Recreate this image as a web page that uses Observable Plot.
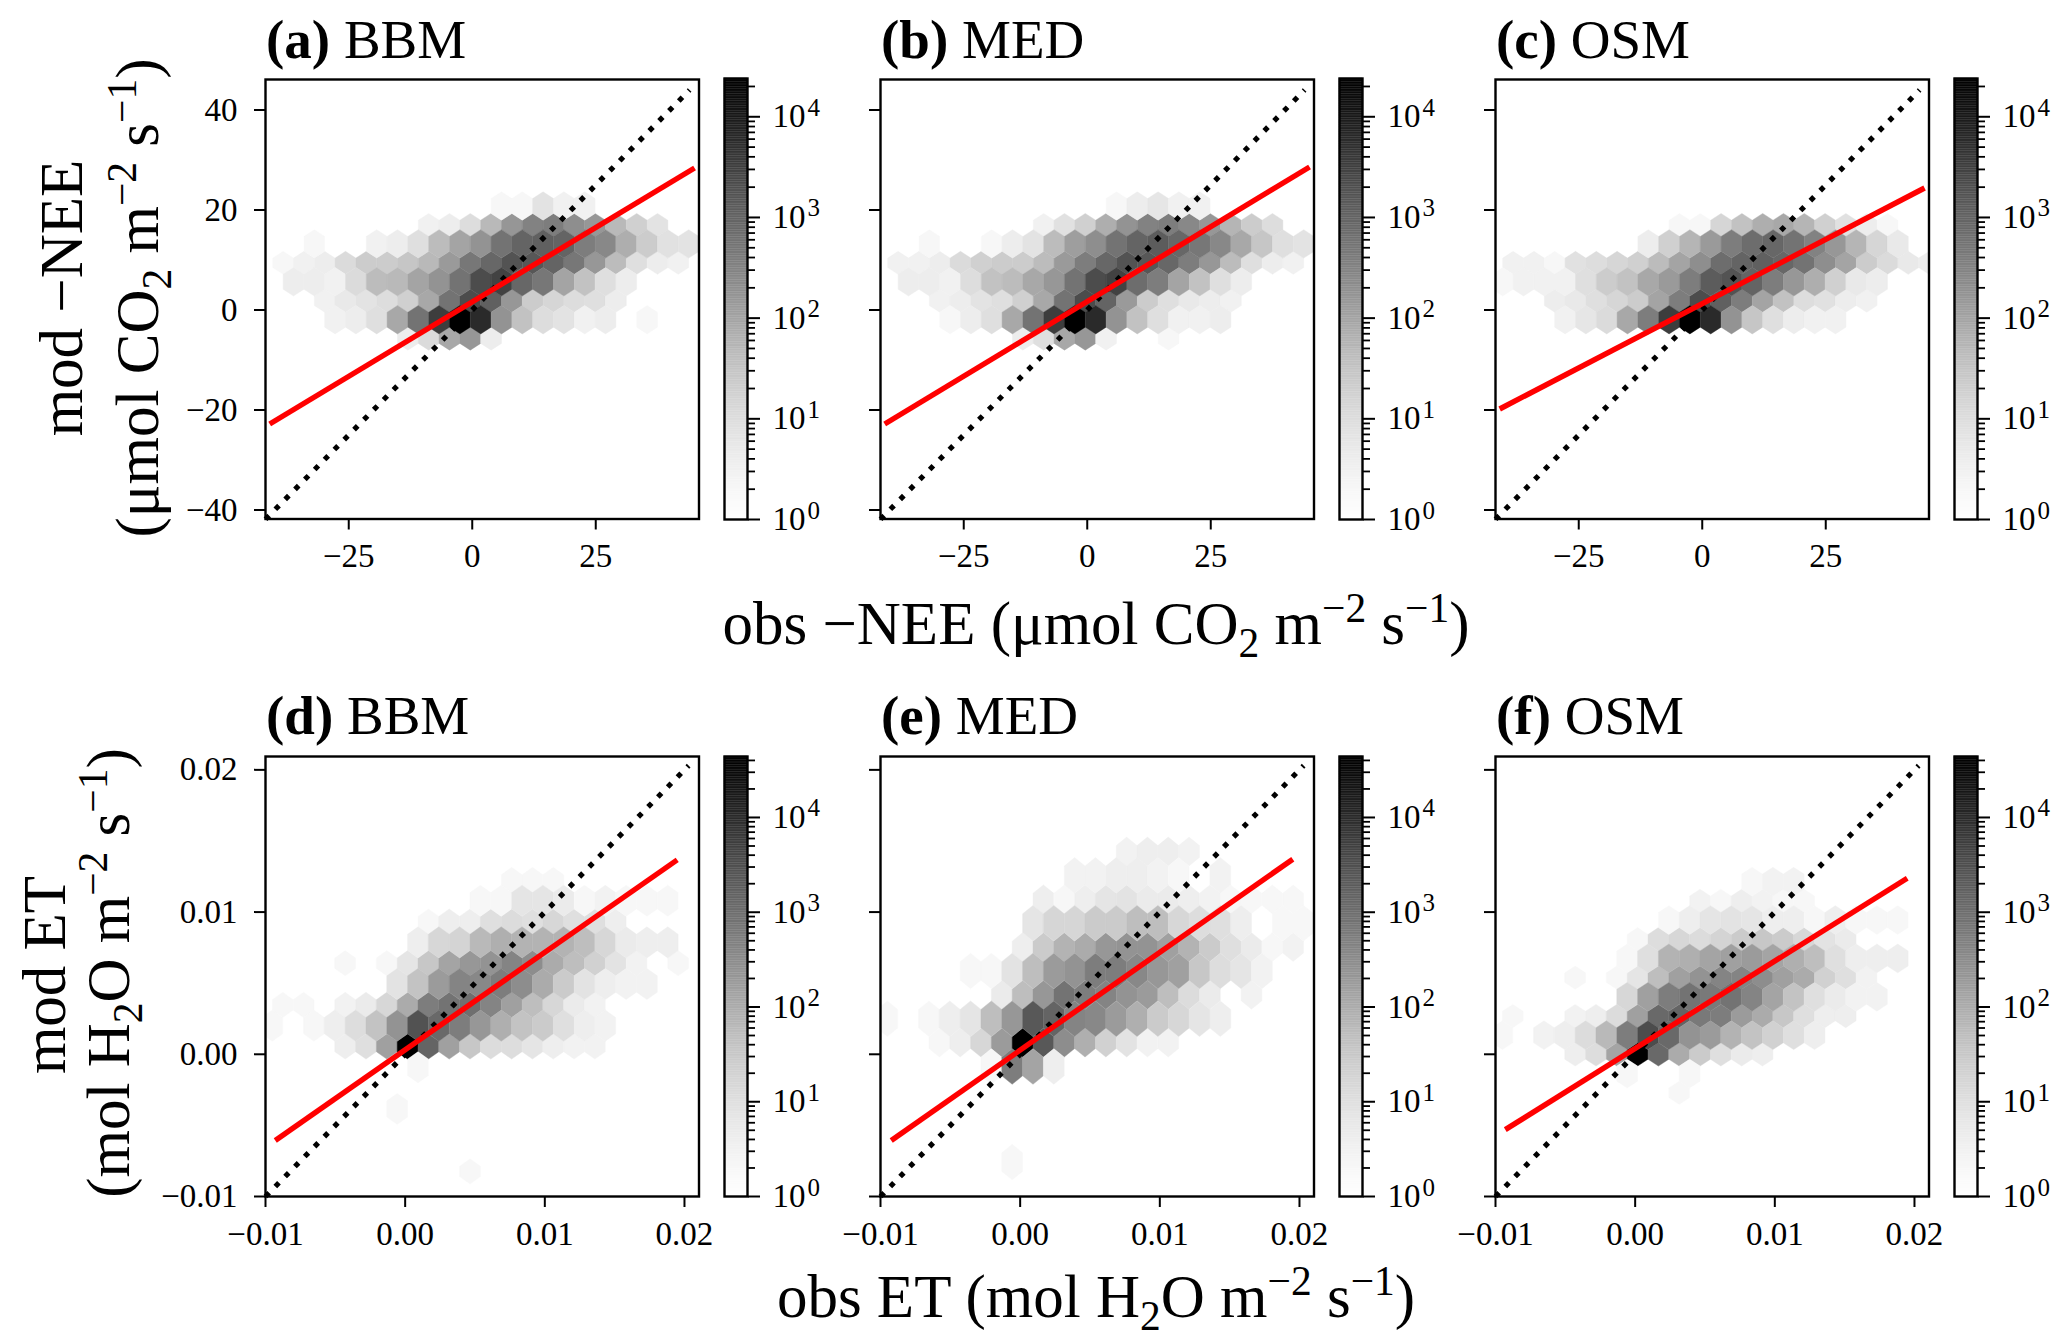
<!DOCTYPE html>
<html>
<head>
<meta charset="utf-8">
<script src="https://cdn.jsdelivr.net/npm/d3@7"></script>
<script src="https://cdn.jsdelivr.net/npm/@observablehq/plot@0.6"></script>
<style>
html,body{margin:0;padding:0;background:#fff;}
#page{position:relative;width:2067px;height:1344px;overflow:hidden;font-family:"Liberation Serif",serif;color:#000;}
.lab{position:absolute;white-space:nowrap;line-height:1;transform:translate(-50%,-50%);}
.rot{transform:translate(-50%,-50%) rotate(-90deg);}
.lab sub,.lab sup{font-size:.68em;line-height:0;}
.title{position:absolute;white-space:nowrap;line-height:1;transform:translateY(-50%);}
svg{position:absolute;}
</style>
</head>
<body>
<div id="page"></div>
<script>
// hexbin counts: [row, first column, counts by column (0 = empty)]
const rowsA = [
 [0,11,[2,2,7,3,3]],
 [1,7,[3,4,10,48,160,320,380,210,155,48,18,7]],
 [2,2,[2,0,0,3,4,9,42,100,175,550,950,1100,950,380,260,70,22,8,7]],
 [3,0,[2,3,4,11,22,22,28,48,140,480,850,1750,1550,950,480,155,42,9,4,3]],
 [4,1,[4,4,3,11,42,48,100,175,550,2200,3000,850,480,100,34,9,4]],
 [5,2,[3,5,7,10,18,85,550,2200,1100,155,22,14,10,9,4]],
 [6,3,[3,4,9,85,550,3500,24000,6000,175,34,10,7,3,4,0,2]],
 [7,6,[4,11,85,155,4]]
];
const rowsB = [
 [0,11,[2,4,6,3,3]],
 [1,7,[3,8,18,70,175,320,380,260,155,55,22,10]],
 [2,2,[2,0,0,2,4,7,42,120,210,550,950,1300,850,480,260,85,28,9,7]],
 [3,0,[3,3,4,11,18,22,22,42,140,380,850,1750,1550,850,380,155,42,9,4,3]],
 [4,1,[4,4,3,10,34,42,85,155,550,2200,3000,700,380,100,34,9,4]],
 [5,2,[3,4,7,9,18,85,550,2200,950,140,22,9,5,4,3]],
 [6,3,[2,4,9,85,550,3500,24000,6000,175,34,9,3,3,4]],
 [7,6,[4,9,85,155,3,0,0,2]]
];
const rowsC = [
 [1,8,[2,2,14,34,70,85,55,18,8,4,2]],
 [2,7,[4,18,55,140,380,700,850,550,320,155,55,14,5]],
 [3,0,[3,3,2,8,10,14,18,42,100,210,700,950,1100,850,550,210,100,22,11,5,4]],
 [4,0,[2,3,3,3,9,22,34,85,140,380,1300,1750,950,380,155,70,18,5,4]],
 [5,2,[4,5,9,14,22,100,380,2200,1100,380,100,34,10,8,4,3]],
 [6,3,[3,6,11,85,380,3500,24000,6000,175,28,9,4,3,3]]
];
const rowsD = [
 [0,11,[2,2,2]],
 [1,10,[2,2,7,7,5,2,3,2,2,2]],
 [2,7,[2,4,4,10,12,10,15,10,10,4]],
 [3,7,[4,15,18,60,89,75,75,75,50,15,5,4,4]],
 [4,3,[2,0,2,7,34,130,210,240,420,300,100,50,21,8,3,0,2]],
 [5,6,[8,40,180,420,360,550,300,100,28,8,4,3,3]],
 [6,0,[2,2,0,3,5,15,100,550,800,950,420,150,50,15,5,3]],
 [7,0,[2,0,2,4,11,40,240,2800,1200,550,211,89,40,28,10,4,3]],
 [8,3,[4,10,150,44000,1450,150,34,12,11,7,4,3,3]],
 [9,7,[2]],
 [11,6,[2]],
 [14,9,[2]]
];
const rowsE = [
 [0,11,[3,4,4,3]],
 [1,9,[3,3,4,4,3,2,0,3]],
 [2,7,[4,2,4,7,8,5,5,4,3,2,2,2,2]],
 [3,7,[7,16,16,28,28,50,50,15,11,10,4,0,2,2]],
 [4,6,[4,28,75,100,211,240,240,150,75,28,10,5,2,3]],
 [5,4,[2,2,8,50,180,240,550,550,360,211,150,34,11,7,3]],
 [6,5,[5,50,211,800,550,420,240,180,50,12,5,0,3]],
 [7,0,[2,0,2,4,7,50,211,2300,1450,420,360,180,89,28,15,7,4]],
 [8,2,[2,4,15,180,44000,2300,300,89,21,8,3,3]],
 [9,5,[2,550,130,4]],
 [13,6,[2]]
];
const rowsF = [
 [0,12,[2,3,3]],
 [1,9,[3,2,4,3,2,2]],
 [2,8,[2,4,7,8,7,4,4,2,4,2,2,2]],
 [3,6,[2,11,15,12,18,28,34,28,15,8,5]],
 [4,6,[2,10,75,89,130,150,180,130,89,50,10,4,4,4]],
 [5,3,[2,0,2,7,50,150,240,420,420,300,150,100,21,10,3]],
 [6,6,[15,150,550,800,650,800,420,130,40,10,5,3,3]],
 [7,0,[2,0,0,3,4,12,150,1200,1450,650,550,180,100,34,10,4,4]],
 [8,0,[2,0,3,4,12,60,550,3500,1200,240,180,75,40,21,10,4]],
 [9,3,[4,11,130,44000,1200,100,28,10,5,4]],
 [10,6,[2,0,0,2]],
 [11,8,[2]]
];
// red regression lines, [x, y] end points
const fitA = [[-41,-22.8],[45,28.4]];
const fitB = [[-41,-22.8],[45,28.6]];
const fitC = [[-41,-19.8],[45,24.4]];
const fitD = [[-0.0093,-0.00606],[0.01948,0.01367]];
const fitE = [[-0.00923,-0.00606],[0.01952,0.01372]];
const fitF = [[-0.0093,-0.0053],[0.01948,0.01238]];

const neeDomainX = [-41.85,45.9];
const neeDomainY = [-41.8,46.1];
const etDomainX = [-0.01,0.02104];
const etDomainY = [-0.01,0.02094];
const neeTicksX = [-25,0,25];
const neeTicksY = [-40,-20,0,20,40];
const etTicks = [-0.01,0,0.01,0.02];
const neeOneToOne = [-41.85,44];
const etOneToOne = [-0.01,0.0203];
const neeMax = 24000;
const etMax = 44000;

const titles = [["(a)","BBM"],["(b)","MED"],["(c)","OSM"],["(d)","BBM"],["(e)","MED"],["(f)","OSM"]];
const decades = [1,10,100,1000,10000];

const FONT = '"Liberation Serif", serif';
const page = document.getElementById("page");

function hexSymbol(tip, side){
  return {draw(ctx,size){
    const rx = Math.sqrt(size/Math.PI);
    ctx.moveTo(0,tip);ctx.lineTo(rx,side);ctx.lineTo(rx,-side);
    ctx.lineTo(0,-tip);ctx.lineTo(-rx,-side);ctx.lineTo(-rx,side);ctx.closePath();
  }};
}
function records(rows, lat){
  const out=[];
  for(const [r,k0,counts] of rows){
    const tall = (r%2===0)===lat.evenTall;
    counts.forEach((c,i)=>{
      if(!c) return;
      out.push({x:(tall?lat.x0:lat.x0+lat.dx/2)+(k0+i)*lat.dx, y:lat.y0+r*lat.dy, count:c, tall});
    });
  }
  return out;
}
function place(svgNode,left,top){
  svgNode.style.left=left+"px";svgNode.style.top=top+"px";
  page.appendChild(svgNode);
}
function panel(o){
  const W=o.w,H=o.h,ML=110,MB=70,MT=4,MR=4;
  const data=records(o.rows,o.lat);
  const s=o.stepPx, tallS=hexSymbol(.75*s,.393*s), shortS=hexSymbol(.607*s,.25*s);
  const common={x:"x",y:"y",r:10.4,fill:"count",stroke:"count",strokeWidth:.4,clip:"frame"};
  const p=Plot.plot({
    width:W+ML+MR,height:H+MT+MB,marginLeft:ML,marginRight:MR,marginTop:MT,marginBottom:MB,
    style:{fontFamily:FONT,background:"none",overflow:"visible",color:"#000"},
    x:{domain:o.dx,label:null},y:{domain:o.dy,label:null},
    color:{type:"log",domain:[1,o.max],scheme:"Greys"},
    marks:[
      Plot.dot(data.filter(d=>!d.tall),{...common,symbol:shortS}),
      Plot.dot(data.filter(d=>d.tall),{...common,symbol:tallS}),
      Plot.line(o.diag.map(v=>[v,v]),{x:"0",y:"1",stroke:"#000",strokeWidth:5.2,strokeDasharray:"5.2,8.8",strokeLinecap:"butt"}),
      Plot.line(o.fit,{x:"0",y:"1",stroke:"#ff0000",strokeWidth:5.4,strokeLinecap:"butt"}),
      Plot.frame({stroke:"#000",strokeWidth:2.4}),
      Plot.axisX(o.tx,{anchor:"bottom",label:null,tickSize:11,strokeWidth:2,stroke:"#000",fill:"#000",tickPadding:14,fontSize:33,tickFormat:o.fmt}),
      Plot.axisY(o.ty,{anchor:"left",label:null,tickSize:11,strokeWidth:2,stroke:"#000",fill:o.ylabels?"#000":"none",tickPadding:17,fontSize:33,tickFormat:o.fmt})
    ]
  });
  place(p,o.left-ML,o.top-MT);
}
function colorbar(o){
  const W=23,H=o.h,MR=90,MT=4,MB=20,ML=4;
  const L=Math.log10(o.max);
  const levels=d3.range(256);
  const v=i=>10**(i*L/256);
  const minors=[];
  for(const d of decades) for(const m of [2,3,4,5,6,7,8,9]) if(d*m<=o.max) minors.push(d*m);
  const p=Plot.plot({
    width:W+ML+MR,height:H+MT+MB,marginLeft:ML,marginRight:MR,marginTop:MT,marginBottom:MB,
    style:{fontFamily:FONT,background:"none",overflow:"visible",color:"#000"},
    x:{domain:[0,1],axis:null},
    y:{type:"log",domain:[1,o.max],label:null},
    color:{type:"log",domain:[1,o.max],scheme:"Greys"},
    marks:[
      Plot.rect(levels,{x1:0,x2:1,y1:i=>v(i),y2:i=>v(i+1),fill:i=>v(i+.5),stroke:i=>v(i+.5),strokeWidth:.3}),
      Plot.frame({stroke:"#000",strokeWidth:2.4}),
      Plot.axisY(minors,{anchor:"right",label:null,tickSize:7,strokeWidth:1.8,stroke:"#000",fill:"none"}),
      Plot.axisY(decades,{anchor:"right",label:null,tickSize:12,strokeWidth:2,stroke:"#000",fill:"#000",tickPadding:13,fontSize:33,tickFormat:()=>"10"}),
      Plot.text(decades,{x:1,y:d=>d,text:d=>String(Math.round(Math.log10(d))),dx:60,dy:-9,fontSize:25,textAnchor:"start",fill:"#000"})
    ]
  });
  place(p,o.left-ML,o.top-MT);
}
function html(cls,x,y,size,content){
  const d=document.createElement("div");
  d.className=cls;d.style.left=x+"px";d.style.top=y+"px";d.style.fontSize=size+"px";
  d.innerHTML=content;page.appendChild(d);
}

const LEFTS=[265,880,1495];
const CB=[724,1339,1954];
const neeLat={x0:-40.39,dx:4.21,y0:20.8,dy:-3.79,evenTall:true};
const etLatD={x0:-0.00951,dx:0.00149,y0:0.01226,dy:-0.001464,evenTall:false};
const etLatE={x0:-0.00951,dx:0.00149,y0:0.01426,dy:-0.00168,evenTall:false};
const etLatF={x0:-0.00951,dx:0.00149,y0:0.01214,dy:-0.00135,evenTall:true};

const topRows=[rowsA,rowsB,rowsC], topFits=[fitA,fitB,fitC];
const botRows=[rowsD,rowsE,rowsF], botFits=[fitD,fitE,fitF], botLat=[etLatD,etLatE,etLatF], botStep=[20.77,23.7,19.17];
const fmtNee=d3.format("d"), fmtEt=d3.format(".2f");

LEFTS.forEach((left,i)=>{
  panel({left,top:78.5,w:433.5,h:439.5,rows:topRows[i],lat:neeLat,stepPx:18.95,max:neeMax,
    dx:neeDomainX,dy:neeDomainY,tx:neeTicksX,ty:neeTicksY,fmt:fmtNee,fit:topFits[i],diag:neeOneToOne,ylabels:i===0});
  colorbar({left:CB[i],top:78,h:441,max:neeMax});
  panel({left,top:756,w:433.5,h:440,rows:botRows[i],lat:botLat[i],stepPx:botStep[i],max:etMax,
    dx:etDomainX,dy:etDomainY,tx:etTicks,ty:etTicks,fmt:fmtEt,fit:botFits[i],diag:etOneToOne,ylabels:i===0});
  colorbar({left:CB[i],top:756,h:440,max:etMax});
  html("title",left+1,39,55,`<b>${titles[i][0]}</b> ${titles[i][1]}`);
  html("title",left+1,715,55,`<b>${titles[i+3][0]}</b> ${titles[i+3][1]}`);
});

html("lab",1096,623,61,"obs −NEE (μmol CO<sub>2</sub> m<sup>−2</sup> s<sup>−1</sup>)");
html("lab",1096,1296,61,"obs ET (mol H<sub>2</sub>O m<sup>−2</sup> s<sup>−1</sup>)");
html("lab rot",61,298,61,"mod −NEE");
html("lab rot",137,298,61,"(μmol CO<sub>2</sub> m<sup>−2</sup> s<sup>−1</sup>)");
html("lab rot",44,975,61,"mod ET");
html("lab rot",108,973,61,"(mol H<sub>2</sub>O m<sup>−2</sup> s<sup>−1</sup>)");
</script>
</body>
</html>
